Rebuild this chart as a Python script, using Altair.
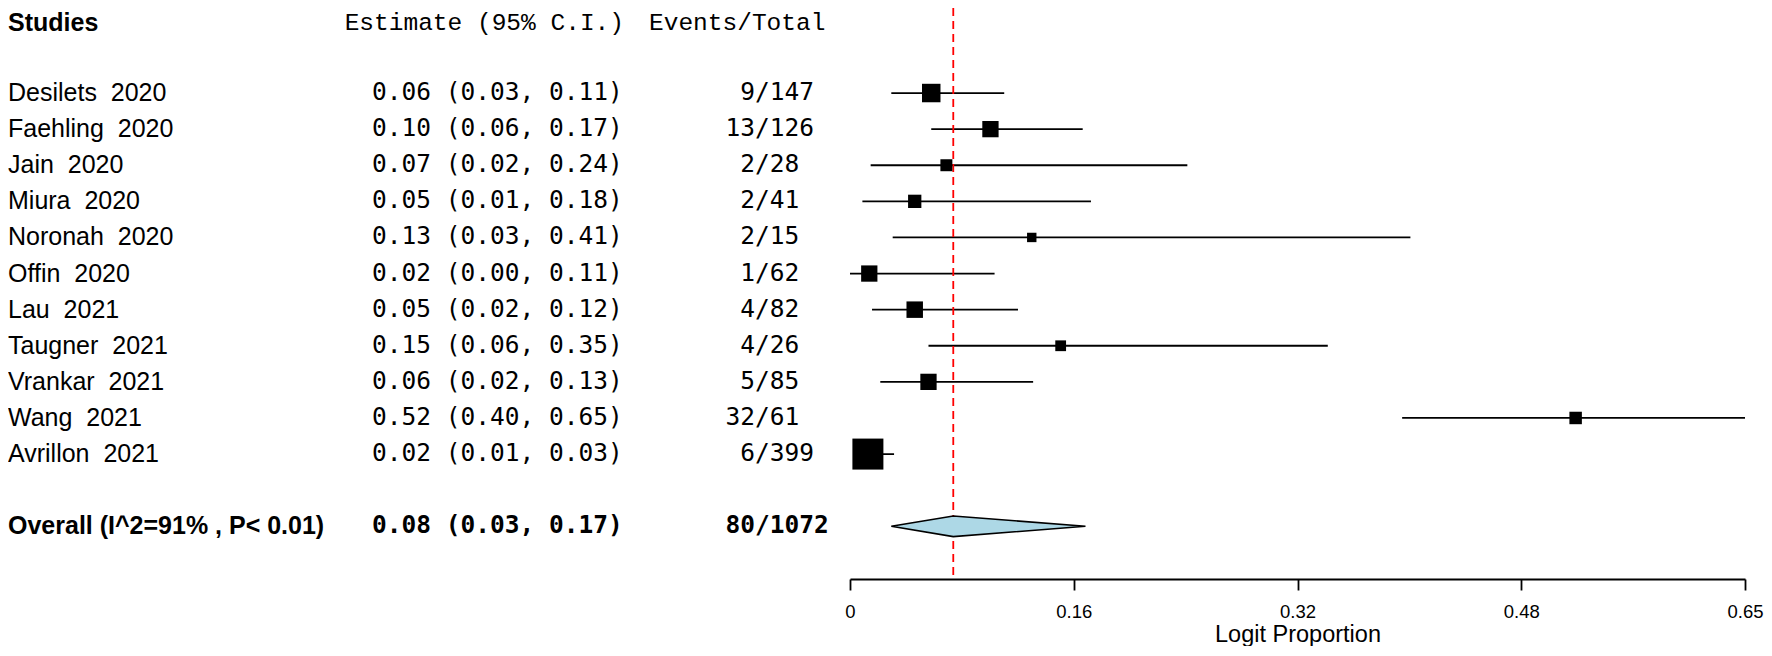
import altair as alt
import pandas as pd

# ---------------- data ----------------
studies = ["Desilets  2020", "Faehling  2020", "Jain  2020", "Miura  2020",
           "Noronah  2020", "Offin  2020", "Lau  2021", "Taugner  2021",
           "Vrankar  2021", "Wang  2021", "Avrillon  2021"]
estimate = [0.059, 0.102, 0.070, 0.047, 0.132, 0.014, 0.047, 0.153, 0.057, 0.527, 0.013]
lower = [0.030, 0.059, 0.015, 0.009, 0.031, 0.000, 0.016, 0.057, 0.022, 0.401, 0.008]
upper = [0.112, 0.169, 0.245, 0.175, 0.407, 0.105, 0.122, 0.347, 0.133, 0.650, 0.032]
ci_labels = ["0.06 (0.03, 0.11)", "0.10 (0.06, 0.17)", "0.07 (0.02, 0.24)",
             "0.05 (0.01, 0.18)", "0.13 (0.03, 0.41)", "0.02 (0.00, 0.11)",
             "0.05 (0.02, 0.12)", "0.15 (0.06, 0.35)", "0.06 (0.02, 0.13)",
             "0.52 (0.40, 0.65)", "0.02 (0.01, 0.03)"]
events = [9, 13, 2, 2, 2, 1, 4, 4, 5, 32, 6]
totals = [147, 126, 28, 41, 15, 62, 82, 26, 85, 61, 399]
weights = [11.2, 8.7, 4.7, 5.8, 2.9, 8.7, 8.9, 3.8, 8.7, 5.1, 31.5]  # relative box area

overall_label = "Overall (I^2=91% , P< 0.01)"
overall_ci_label = "0.08 (0.03, 0.17)"
overall_events = 80
overall_total = 1072
overall_est = 0.075
overall_lower = 0.030
overall_upper = 0.171

tick_values = [0, 0.1625, 0.325, 0.4875, 0.65]
tick_labels = ["0", "0.16", "0.32", "0.48", "0.65"]

# ---------------- tables ----------------
rows = list(range(len(studies)))
df = pd.DataFrame({"study": [s.replace("  ", "\u00a0 ") for s in studies],
                   "est": estimate, "lower": lower, "upper": upper,
                   "ci": ci_labels, "ev": [str(e) for e in events],
                   "tot": ["/" + str(t) for t in totals], "weight": weights, "row": rows})
OVR = 12
HDR = -1.94
ov = pd.DataFrame({"label": [overall_label], "ci": [overall_ci_label],
                   "ev": [str(overall_events)], "tot": ["/" + str(overall_total)],
                   "row": [OVR]})
half = 0.286
diamond = pd.DataFrame({"x": [overall_lower, overall_est, overall_upper],
                        "y": [OVR, OVR - half, OVR],
                        "y2": [OVR, OVR + half, OVR]})
hdr = pd.DataFrame({"row": [HDR], "a": ["Studies"], "b": ["Estimate (95% C.I.)"],
                    "c": ["Events/Total"]})

PLOT_LEFT = 850.0            # page x of the plot's left edge
W = 895
H = 571
PAD_L = PLOT_LEFT - 8
PAD_R = 1756 - PAD_L - W
PAD_B = 67
SANS = "Liberation Sans"
MONO = "DejaVu Sans Mono"

label_expr = "[" + ",".join(f"'{t}'" for t in tick_labels) + "][round(datum.value/0.1625)]"
xscale = alt.Scale(domain=[0, 0.65], nice=False, zero=False)
xaxis = alt.Axis(values=tick_values, labelExpr=label_expr, title="Logit Proportion",
                 grid=False, domainColor="black", domainWidth=1.8, tickColor="black",
                 tickWidth=1.8, tickSize=11, labelFontSize=18.5, labelFont=SANS,
                 labelColor="black", labelPadding=12, labelFlush=False,
                 titleFont=SANS, titleFontSize=23.5, titleFontWeight="normal",
                 titleColor="black", titlePadding=2)
yscale = alt.Scale(domain=[-2.355, 13.46], reverse=True, nice=False, zero=False)


def X(field):
    return alt.X(f"{field}:Q", scale=xscale, axis=xaxis)


def Y(field="row"):
    return alt.Y(f"{field}:Q", scale=yscale, axis=None)


base = alt.Chart(df)

ci = base.mark_rule(color="black", strokeWidth=1.8).encode(
    x=X("lower"), x2="upper:Q", y=Y())

ref = alt.Chart(pd.DataFrame({"v": [overall_est]})).mark_rule(
    color="red", strokeDash=[8, 5], strokeWidth=1.8).encode(
    x=X("v"), y=alt.value(0), y2=alt.value(H))

boxes = base.mark_square(color="black", opacity=1).encode(
    x=X("est"), y=Y(),
    size=alt.Size("weight:Q", scale=alt.Scale(domain=[0, 31.5], range=[0, 961]), legend=None))

dia = alt.Chart(diamond).mark_area(fill="lightblue", stroke="black", strokeWidth=1.6,
                                    opacity=1).encode(
    x=X("x"), y=Y("y"), y2="y2:Q")

NAME_X = 8 - PLOT_LEFT
CI_X = 372 - PLOT_LEFT
SLASH_X = 755 - PLOT_LEFT
HB_X = 624 - PLOT_LEFT
HC_X = 649 - PLOT_LEFT


def txt(data, field, x, align, font, size, weight="normal"):
    return alt.Chart(data).mark_text(align=align, baseline="middle", font=font,
                                     fontSize=size, fontWeight=weight,
                                     color="black").encode(
        x=alt.value(x), y=Y(), text=f"{field}:N")


layers = [ci, ref, boxes, dia,
          txt(df, "study", NAME_X, "left", SANS, 25),
          txt(df, "ci", CI_X, "left", MONO, 24.5),
          txt(df, "ev", SLASH_X, "right", MONO, 24.5),
          txt(df, "tot", SLASH_X, "left", MONO, 24.5),
          txt(ov, "label", NAME_X, "left", SANS, 25, "bold"),
          txt(ov, "ci", CI_X, "left", MONO, 24.5, "bold"),
          txt(ov, "ev", SLASH_X, "right", MONO, 24.5, "bold"),
          txt(ov, "tot", SLASH_X, "left", MONO, 24.5, "bold"),
          txt(hdr, "a", NAME_X, "left", SANS, 25, "bold"),
          txt(hdr, "b", HB_X, "right", "Liberation Mono", 24.5),
          txt(hdr, "c", HC_X, "left", "Liberation Mono", 24.5)]

chart = alt.layer(*layers).properties(
    width=W, height=H,
    autosize=alt.AutoSizeParams(type="none"),
    padding={"left": PAD_L, "top": 0, "right": PAD_R, "bottom": PAD_B},
    background="white"
).configure_view(stroke=None)

chart.save("out.html", embed_options={"renderer": "svg", "actions": False})
